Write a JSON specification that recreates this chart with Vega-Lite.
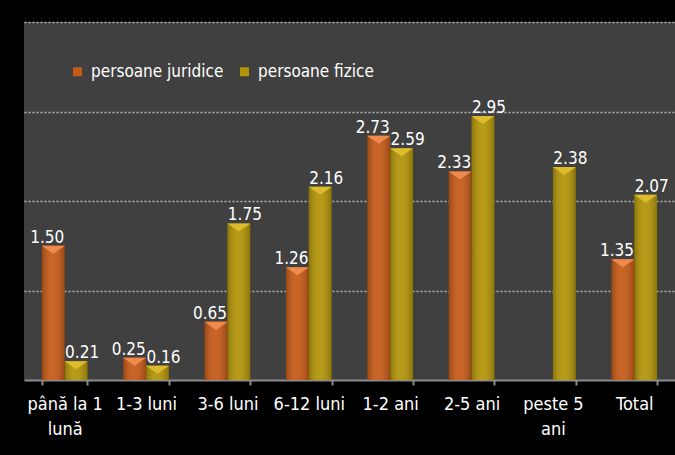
{
  "$schema": "https://vega.github.io/schema/vega-lite/v6.json",
  "width": 651,
  "height": 358,
  "autosize": "none",
  "padding": {"left": 24, "top": 22, "right": 0, "bottom": 75},
  "background": "#000000",
  "config": {
    "view": {"fill": "#404040", "stroke": null},
    "font": "DejaVu Sans Condensed"
  },
  "data": {
    "values": [
      {"category": "până la 1 lună", "series": "persoane juridice", "value": 1.50},
      {"category": "până la 1 lună", "series": "persoane fizice", "value": 0.21},
      {"category": "1-3 luni", "series": "persoane juridice", "value": 0.25},
      {"category": "1-3 luni", "series": "persoane fizice", "value": 0.16},
      {"category": "3-6 luni", "series": "persoane juridice", "value": 0.65},
      {"category": "3-6 luni", "series": "persoane fizice", "value": 1.75},
      {"category": "6-12 luni", "series": "persoane juridice", "value": 1.26},
      {"category": "6-12 luni", "series": "persoane fizice", "value": 2.16},
      {"category": "1-2 ani", "series": "persoane juridice", "value": 2.73},
      {"category": "1-2 ani", "series": "persoane fizice", "value": 2.59},
      {"category": "2-5 ani", "series": "persoane juridice", "value": 2.33},
      {"category": "2-5 ani", "series": "persoane fizice", "value": 2.95},
      {"category": "peste 5 ani", "series": "persoane fizice", "value": 2.38},
      {"category": "Total", "series": "persoane juridice", "value": 1.35},
      {"category": "Total", "series": "persoane fizice", "value": 2.07}
    ]
  },
  "encoding": {
    "x": {
      "field": "category",
      "type": "nominal",
      "sort": ["până la 1 lună", "1-3 luni", "3-6 luni", "6-12 luni", "1-2 ani", "2-5 ani", "peste 5 ani", "Total"],
      "scale": {"paddingInner": 0.44, "paddingOuter": 0.22},
      "axis": {
        "title": null,
        "labelAngle": 0,
        "labelColor": "#ffffff",
        "labelFontSize": 18,
        "labelFont": "DejaVu Sans Condensed",
        "labelPadding": 10,
        "labelLineHeight": 25,
        "labelBaseline": "top",
        "labelExpr": "datum.value == 'până la 1 lună' ? ['până la 1', 'lună'] : datum.value == 'peste 5 ani' ? ['peste 5', 'ani'] : datum.value",
        "domainColor": "#8c8c8c",
        "domainWidth": 2,
        "tickColor": "#8c8c8c",
        "tickWidth": 2,
        "tickSize": 5,
        "tickBand": "extent",
        "grid": false
      }
    },
    "xOffset": {
      "field": "series",
      "type": "nominal",
      "sort": ["persoane juridice", "persoane fizice"],
      "scale": {"domain": ["persoane juridice", "persoane fizice"], "paddingInner": 0, "paddingOuter": 0}
    },
    "y": {
      "field": "value",
      "type": "quantitative",
      "scale": {"domain": [0, 4], "nice": false},
      "axis": {
        "title": null,
        "labels": false,
        "ticks": false,
        "domain": false,
        "values": [1, 2, 3, 4],
        "grid": true,
        "gridColor": "#b5b5b5",
        "gridDash": [2, 2],
        "gridWidth": 1.5
      }
    }
  },
  "layer": [
    {
      "mark": {"type": "bar"},
      "encoding": {
        "color": {
          "field": "series",
          "type": "nominal",
          "scale": {"domain": ["persoane juridice", "persoane fizice"], "range": ["#c65a17", "#b39508"]},
          "legend": {
            "title": null,
            "orient": "none",
            "legendX": 45,
            "legendY": 41,
            "direction": "horizontal",
            "symbolType": "square",
            "symbolSize": 81,
            "symbolStrokeWidth": 0,
            "labelColor": "#ffffff",
            "labelFontSize": 17,
            "labelFont": "DejaVu Sans Condensed",
            "columnPadding": 12,
            "labelOffset": 5
          }
        }
      }
    },
    {
      "mark": {
        "type": "bar",
        "fill": {
          "gradient": "linear",
          "x1": 0, "x2": 1, "y1": 0, "y2": 0,
          "stops": [
            {"offset": 0, "color": "rgba(0,0,0,0.22)"},
            {"offset": 0.45, "color": "rgba(255,255,255,0.06)"},
            {"offset": 1, "color": "rgba(0,0,0,0.22)"}
          ]
        }
      }
    },
    {
      "mark": {"type": "point", "filled": true, "shape": "M-1,0L1,0L0,0.7Z", "size": 529, "opacity": 1, "strokeWidth": 0},
      "encoding": {
        "fill": {
          "condition": {"test": "datum.series == 'persoane juridice'", "value": "#f08a4c"},
          "value": "#dcbc2c"
        }
      }
    },
    {
      "transform": [{"filter": "datum.series == 'persoane juridice'"}],
      "mark": {"type": "text", "baseline": "alphabetic", "dy": -3, "dx": -6, "color": "#ffffff", "fontSize": 17, "font": "DejaVu Sans Condensed"},
      "encoding": {
        "text": {"field": "value", "type": "quantitative", "format": ".2f"}
      }
    },
    {
      "transform": [{"filter": "datum.series == 'persoane fizice'"}],
      "mark": {"type": "text", "baseline": "alphabetic", "dy": -3, "dx": 6, "color": "#ffffff", "fontSize": 17, "font": "DejaVu Sans Condensed"},
      "encoding": {
        "text": {"field": "value", "type": "quantitative", "format": ".2f"}
      }
    }
  ]
}
